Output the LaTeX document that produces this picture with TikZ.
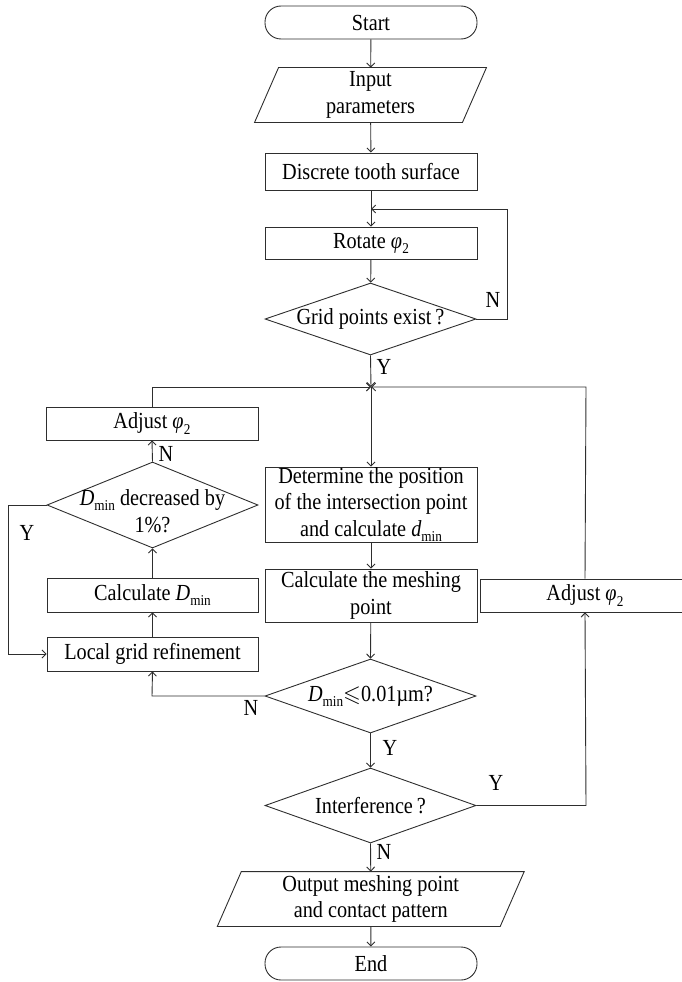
\documentclass[tikz,border=0pt]{standalone}
\usepackage{fontspec}
\setmainfont{Liberation Serif}[FakeStretch=0.88]
\usepackage{amssymb}
\usetikzlibrary{arrows.meta,shapes.geometric}
\newcommand{\subsz}{\fontsize{15}{15}\selectfont}
\newcommand{\phiTwo}{\textit{φ}\kern0.3pt\raisebox{-0.22em}{\subsz 2}}
\newcommand{\Dmin}{\textit{D}\raisebox{-0.22em}{\subsz min}}
\newcommand{\dmin}{\textit{d}\raisebox{-0.22em}{\subsz min}}
\tikzset{
  lc/.style={draw=black!82},
  box/.style={lc, rectangle, minimum width=212pt, inner sep=0pt, align=center},
  term/.style={box, rounded corners=16pt},
  dia/.style={lc, diamond, inner sep=0pt, minimum width=211pt},
  io/.style={rectangle, inner sep=0pt, align=center, minimum width=207pt, minimum height=54pt},
  arr/.style={lc, -{Straight Barb[length=4pt,width=8pt]}},
  lab/.style={inner sep=0pt}
}
\begin{document}
\begin{tikzpicture}[x=1pt,y=-1pt, font=\fontsize{23}{26.5}\selectfont, line width=0.9pt]
\useasboundingbox (0,0) rectangle (681,982);
% nodes
\node[term, minimum height=33pt] (start) at (371,22.5) {Start};
\node[io] (inp) at (370.5,95) {Input\\parameters};
\draw[lc] ([xshift=12pt]inp.north west) -- ([xshift=12pt]inp.north east)
  -- ([xshift=-12pt]inp.south east) -- ([xshift=-12pt]inp.south west) -- cycle;
\node[box, minimum height=37pt] (disc) at (371,171.5) {Discrete tooth surface};
\node[box, minimum height=32pt] (rot) at (371,243) {Rotate \phiTwo};
\node[dia, minimum height=72pt, label={center:{Grid points exist\,?}}] (grid) at (370.5,319) {};
\coordinate (junc) at (371,387);
\coordinate (loopin) at (371,209);
\node[box, minimum height=33pt] (ladj) at (152,423.5) {Adjust \phiTwo};
\node[dia, minimum height=86pt, label={[align=center, yshift=-6pt]center:{\Dmin{} decreased by\\1\%?}}] (dec) at (152.5,505) {};
\node[box, minimum width=211pt, minimum height=34pt] (cdmin) at (152.5,595) {Calculate \Dmin};
\node[box, minimum width=211pt, minimum height=34pt] (lgr) at (152.5,654) {Local grid refinement};
\node[box, minimum height=75pt] (det) at (371,504.5) {Determine the position\\of the intersection point\\and calculate \dmin};
\node[box, minimum height=53pt] (mesh) at (371,595.5) {Calculate the meshing\\point};
\node[box, minimum width=210pt, minimum height=33pt] (radj) at (585,595.5) {Adjust \phiTwo};
\node[dia, minimum height=74pt, label={center:{\Dmin$\leqslant$0.01µm?}}] (dle) at (370.5,696) {};
\node[dia, minimum height=75pt, label={center:{Interference\,?}}] (intf) at (370.5,805.5) {};
\node[io, minimum width=282pt] (out) at (370.75,899) {Output meshing point\\and contact pattern};
\draw[lc] ([xshift=12pt]out.north west) -- ([xshift=12pt]out.north east)
  -- ([xshift=-12pt]out.south east) -- ([xshift=-12pt]out.south west) -- cycle;
\node[term, minimum height=33pt] (end) at (371,963.5) {End};
% connectors
\draw[arr] (start) -- (inp);
\draw[arr] (inp) -- (disc);
\draw[arr] (disc) -- (rot);
\draw[arr] (rot) -- (grid);
\draw[arr] (grid.east) -- (507,319) -- (507,209) -- (loopin);
\draw[arr] (grid.south) -- (junc);
\draw[arr] (ladj.north) -- (152,387) -- (junc);
\draw[arr] (radj.north) -- (586,387) -- (junc);
\draw[arr] (junc) -- (det.north);
\draw[arr] (det) -- (mesh);
\draw[arr] (mesh) -- (dle.north);
\draw[arr] (dle.west) -- (152,696) -- (lgr.south);
\draw[arr] (lgr) -- (cdmin);
\draw[arr] (cdmin.north) -- (dec.south);
\draw[arr] (dec.north) -- (ladj.south);
\draw[arr] (dec.west) -- (8,505) -- (8,654) -- (lgr.west);
\draw[arr] (dle.south) -- (intf.north);
\draw[arr] (intf.east) -- (586,805.5) -- (radj.south);
\draw[arr] (intf.south) -- (out.north);
\draw[arr] (out) -- (end);
% labels
\node[lab] (l1) at (493,300) {N};
\node[lab] (l2) at (384,367) {Y};
\node[lab] (l3) at (166,454) {N};
\node[lab] (l4) at (27,533) {Y};
\node[lab] (l5) at (251,708) {N};
\node[lab] (l6) at (390,748) {Y};
\node[lab] (l7) at (496,783) {Y};
\node[lab] (l8) at (384,852) {N};
\end{tikzpicture}
\end{document}
